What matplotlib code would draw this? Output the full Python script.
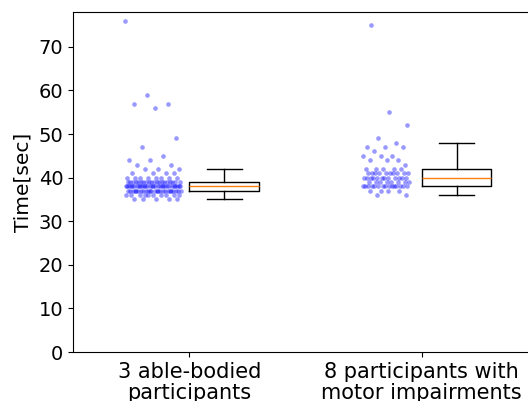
import numpy as np
import matplotlib
matplotlib.use("Agg")
import matplotlib.pyplot as plt

categories = ["3 able-bodied\nparticipants", "8 participants with\nmotor impairments"]

# time values (sec) and how many trials were observed at each value
g1_values = [35, 36, 37, 38, 39, 40, 41, 42, 43, 44, 45, 47, 49, 56, 57, 59, 76]
g1_counts = [5, 10, 25, 30, 20, 8, 4, 3, 2, 2, 1, 1, 1, 1, 2, 1, 1]
g2_values = [36, 37, 38, 39, 40, 41, 42, 43, 44, 45, 46, 47, 48, 49, 52, 55, 75]
g2_counts = [2, 4, 15, 8, 12, 10, 5, 1, 3, 3, 1, 3, 1, 1, 1, 1, 1]

groups = [np.repeat(g1_values, g1_counts).astype(float),
          np.repeat(g2_values, g2_counts).astype(float)]
spreads = [0.12, 0.10]

fig = plt.figure(figsize=(5.28, 4.01), dpi=100)
ax = fig.add_axes([73 / 528, 49 / 401, 465 / 528, 340 / 401])

for i, data in enumerate(groups):
    n = len(data)
    phi = (np.sqrt(5) - 1) / 2
    frac = (np.arange(n) * phi + 0.31) % 1.0
    xs = i - 0.155 + (frac - 0.5) * 2 * spreads[i]
    ax.scatter(xs, data, s=11, color="blue", alpha=0.4, linewidths=0, zorder=3)

ax.boxplot(groups, positions=[0.15, 1.15], widths=0.3, showfliers=False,
           medianprops=dict(color="#ff7f0e"),
           manage_ticks=False)

ax.set_xlim(-0.5, 1.5)
ax.set_ylim(0, 78)
ax.set_yticks(range(0, 80, 10))
ax.set_xticks([0, 1])
ax.set_xticklabels(categories, fontsize=15, linespacing=1.1)
ax.tick_params(axis="y", labelsize=14)
ax.set_ylabel("Time[sec]", fontsize=14.5, labelpad=4)

fig.savefig("out.png", dpi=100)
